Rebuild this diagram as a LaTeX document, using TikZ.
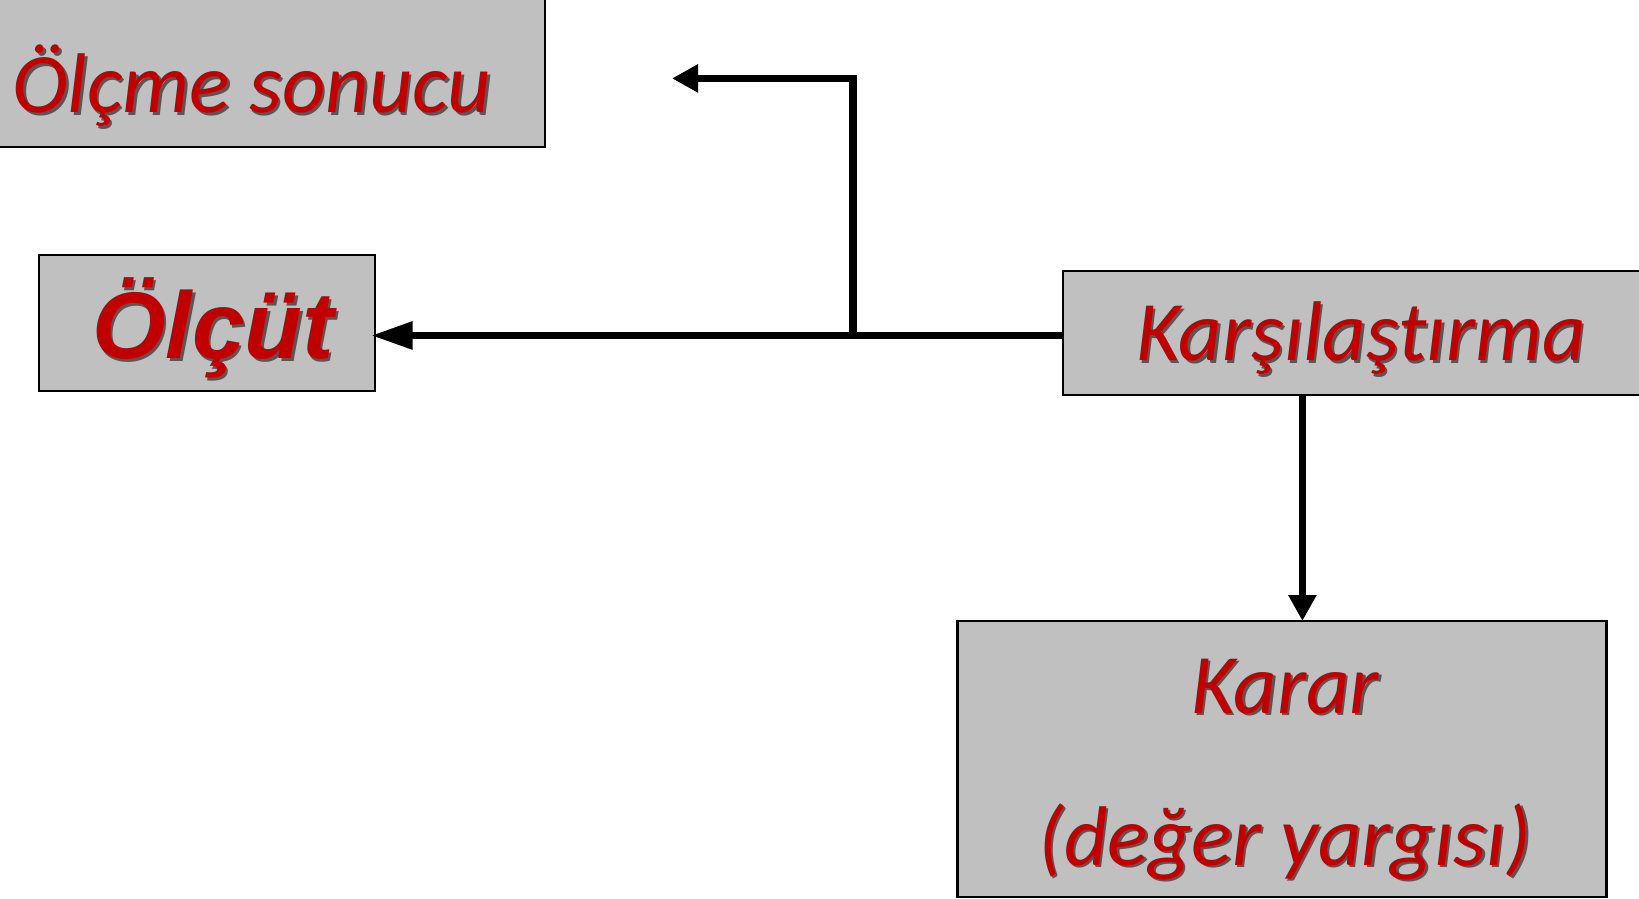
\documentclass[tikz,border=0pt]{standalone}
\usepackage{fontspec}
\setmainfont{Carlito}[Ligatures={NoCommon}]
\newfontfamily\arialfont{Liberation Sans}
\usetikzlibrary{arrows.meta}
\definecolor{boxgray}{HTML}{C0C0C0}
\definecolor{txtred}{HTML}{C00000}
\begin{document}
\begin{tikzpicture}[x=0.75pt,y=-0.75pt,
  box/.style={draw=black,line width=1.6pt,fill=boxgray,inner sep=0pt,outer sep=0pt},
  lbl/.style={anchor=base,inner sep=0pt,text=txtred},
  shd/.style={anchor=base,inner sep=0pt,text=black,text opacity=0.55},
  calfont/.style={font=\fontsize{63.5}{70}\selectfont\itshape},
  arfont/.style={font=\fontsize{71}{80}\selectfont\arialfont\bfseries\itshape},
  conn/.style={line width=5.3pt,draw=black},
  bigtip/.style={-{Triangle[length=31pt,width=20pt]}},
  smalltip/.style={-{Triangle[length=19.5pt,width=20pt]}}
]
\useasboundingbox (0,0) rectangle (1639,899);
\clip (0,0) rectangle (1639,899);
% boxes
\node[box,minimum width=415.95pt,minimum height=118.05pt] (b1) at (267.3,68.7) {};
\node[box,minimum width=252.45pt,minimum height=102pt] (b2) at (207,323) {};
\node[box,minimum width=440.25pt,minimum height=93.2pt] (b3) at (1356.5,332.85) {};
\node[box,minimum width=486.8pt,minimum height=207pt] (b4) at (1282,759) {};
% texts
\node[shd,calfont] at (254.5,115.5) {Ölçme sonucu};
\node[lbl,calfont] (t1) at (252,113) {Ölçme sonucu};
\node[shd,arfont] at (215.5,361) {Ölçüt};
\node[lbl,arfont] (t2) at (213,358.5) {Ölçüt};
\node[shd,calfont] at (1363.5,363) {Karşılaştırma};
\node[lbl,calfont] (t3) at (1361,360.5) {Karşılaştırma};
\node[shd,calfont] at (1287.5,715.5) {Karar};
\node[lbl,calfont] (t4) at (1285,713) {Karar};
\node[shd,calfont] at (1287.5,867.5) {(değer yargısı)};
\node[lbl,calfont] (t5) at (1285,865) {(değer yargısı)};
% connectors
\coordinate (j) at (853,335.5);
\coordinate (up) at (672,78.4);
\coordinate (dx) at (1302.4,0);
\draw[conn,bigtip] (b3.west |- j) -- ([xshift=-3pt]b2.east |- j);
\draw[conn,smalltip] (j) -- (j |- up) -- (up);
\draw[conn,smalltip] (b3.south -| dx) -- (b4.north -| dx);
\end{tikzpicture}
\end{document}
